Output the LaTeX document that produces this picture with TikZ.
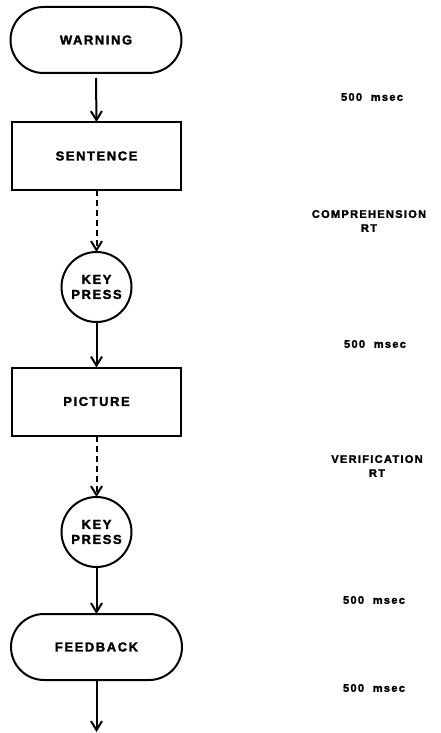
\documentclass[tikz,border=0pt]{standalone}
\usepackage{fontspec}
\setmainfont{Liberation Sans}
\usetikzlibrary{arrows.meta}
\newfontfamily\boxfont[LetterSpace=12,FakeBold=2]{Liberation Sans Bold}
\newfontfamily\sidefont[LetterSpace=12,FakeBold=2]{Liberation Sans Bold}
\begin{document}
\begin{tikzpicture}[x=1pt,y=-1pt,
  every node/.style={inner sep=0pt,outer sep=0pt},
  term/.style={draw,line width=2pt,rounded corners=33pt,minimum width=171pt,minimum height=66pt,font=\boxfont\fontsize{13}{15}\selectfont},
  stepbox/.style={draw,line width=2pt,minimum width=169pt,minimum height=68pt,font=\boxfont\fontsize{13}{15}\selectfont},
  keybox/.style={draw,circle,line width=2pt,minimum size=70pt,align=center,font=\boxfont\fontsize{13}{15}\selectfont},
  side/.style={align=center,font=\sidefont\fontsize{11}{14}\selectfont},
  conn/.style={line width=2pt,-{Straight Barb[length=9pt,width=11pt,line width=2pt]}},
  dconn/.style={conn,dash pattern=on 6pt off 4pt}]
\useasboundingbox (0,0) rectangle (440,733);
\node[term] (warn) at (96,40) {WARNING};
\node[stepbox] (sent) at (96.5,156) {SENTENCE};
\node[keybox] (key1) at (96.5,287) {KEY\\PRESS};
\node[stepbox] (pic) at (96.5,401.5) {PICTURE};
\node[keybox] (key2) at (96.5,532) {KEY\\PRESS};
\node[term] (feed) at (96.5,647) {FEEDBACK};
\coordinate (end) at (96.5,732);
\draw[conn] ([yshift=-5pt]warn.south) -- (sent.north);
\draw[dconn] (sent.south) -- (key1.north);
\draw[conn] (key1.south) -- (pic.north);
\draw[dconn] (pic.south) -- (key2.north);
\draw[conn] (key2.south) -- (feed.north);
\draw[conn] (feed.south) -- (end);
\node[side] (t1) at (372,97) {500\ \ msec};
\node[side] (t2) at (369,221) {COMPREHENSION\\RT};
\node[side] (t3) at (375,344) {500\ \ msec};
\node[side] (t4) at (377,466) {VERIFICATION\\RT};
\node[side] (t5) at (374,600) {500\ \ msec};
\node[side] (t6) at (374,688) {500\ \ msec};
\end{tikzpicture}
\end{document}
